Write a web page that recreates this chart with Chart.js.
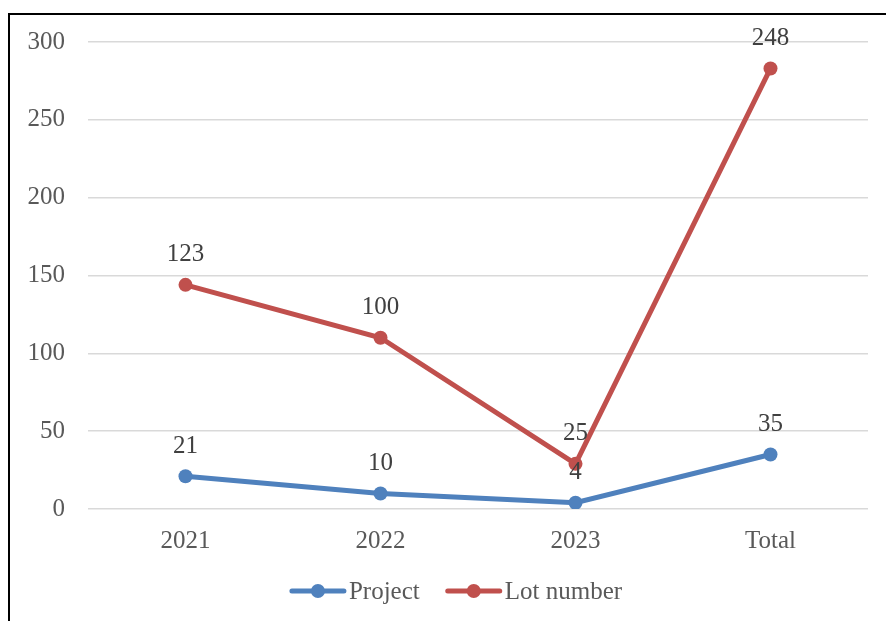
<!DOCTYPE html>
<html>
<head>
<meta charset="utf-8">
<script src="https://cdn.jsdelivr.net/npm/chart.js@4/dist/chart.umd.min.js"></script>
<style>
html,body{margin:0;padding:0;background:#fff;}
#wrap{position:relative;width:886px;height:621px;}
</style>
</head>
<body>
<div id="wrap"><canvas id="c" width="886" height="621"></canvas></div>
<script>
const categories = ["2021", "2022", "2023", "Total"];
const projectValues = [21, 10, 4, 35];
const lotNumberValues = [123, 100, 25, 248];
const seriesNames = ["Project", "Lot number"];
const yTicks = [0, 50, 100, 150, 200, 250, 300];

const FONT = "'Liberation Serif', 'Times New Roman', serif";
const FS = 25;
const BLUE = "#4F81BD";
const RED = "#C0504D";

const framePlugin = {
  id: "frame",
  beforeDraw(chart) {
    const ctx = chart.ctx;
    ctx.save();
    ctx.fillStyle = "#fff";
    ctx.fillRect(0, 0, chart.width, chart.height);
    ctx.fillStyle = "#000";
    ctx.fillRect(8, 13, 2, chart.height - 13);
    ctx.fillRect(8, 13, chart.width - 8, 2);
    ctx.restore();
  }
};

const labelPlugin = {
  id: "valueLabels",
  afterDatasetsDraw(chart) {
    const ctx = chart.ctx;
    ctx.save();
    ctx.font = FS + "px " + FONT;
    ctx.fillStyle = "#404040";
    ctx.textAlign = "center";
    ctx.textBaseline = "middle";
    chart.data.datasets.forEach((ds, i) => {
      const meta = chart.getDatasetMeta(i);
      meta.data.forEach((pt, j) => {
        ctx.fillText(String(ds.data[j]), pt.x, pt.y - 30);
      });
    });
    ctx.restore();
  }
};

const legendPlugin = {
  id: "customLegend",
  afterDraw(chart) {
    const ctx = chart.ctx;
    ctx.save();
    ctx.font = FS + "px " + FONT;
    ctx.textBaseline = "middle";
    const y = 591;
    const lineW = 56, gapText = 3, gapItem = 26;
    const items = chart.data.datasets.map(ds => ({
      label: ds.label, color: ds.borderColor,
      w: lineW + gapText + ctx.measureText(ds.label).width
    }));
    const total = items.reduce((a, b) => a + b.w, 0) + gapItem * (items.length - 1);
    let x = 456 - total / 2;
    items.forEach(it => {
      ctx.strokeStyle = it.color;
      ctx.lineWidth = 5;
      ctx.lineCap = "round";
      ctx.beginPath();
      ctx.moveTo(x + 2, y);
      ctx.lineTo(x + lineW - 2, y);
      ctx.stroke();
      ctx.fillStyle = it.color;
      ctx.beginPath();
      ctx.arc(x + lineW / 2, y, 7, 0, Math.PI * 2);
      ctx.fill();
      ctx.fillStyle = "#595959";
      ctx.textAlign = "left";
      ctx.fillText(it.label, x + lineW + gapText, y + 1);
      x += it.w + gapItem;
    });
    ctx.restore();
  }
};

new Chart(document.getElementById("c"), {
  type: "line",
  data: {
    labels: categories,
    datasets: [
      {
        label: seriesNames[0], data: projectValues,
        borderColor: BLUE, backgroundColor: BLUE,
        borderWidth: 5, pointRadius: 7, pointHoverRadius: 7,
        pointBackgroundColor: BLUE, pointBorderWidth: 0, tension: 0, fill: false
      },
      {
        label: seriesNames[1], data: lotNumberValues,
        borderColor: RED, backgroundColor: RED,
        borderWidth: 5, pointRadius: 7, pointHoverRadius: 7,
        pointBackgroundColor: RED, pointBorderWidth: 0, tension: 0, fill: false
      }
    ]
  },
  options: {
    responsive: false,
    animation: false,
    devicePixelRatio: 1,
    layout: { padding: { top: 42, right: 18, bottom: 0, left: 0 } },
    plugins: { legend: { display: false }, tooltip: { enabled: false } },
    scales: {
      x: {
        offset: true,
        grid: { display: false, drawTicks: false },
        border: { display: false },
        ticks: { color: "#595959", font: { family: FONT, size: FS }, padding: 17, maxRotation: 0 },
        afterFit(s) { s.height = 112; }
      },
      y: {
        stacked: true,
        min: 0, max: 300,
        afterBuildTicks(s) { s.ticks = yTicks.map(v => ({ value: v })); },
        grid: { color: "#D9D9D9", lineWidth: 1.5, drawTicks: false },
        border: { display: false },
        ticks: { color: "#595959", font: { family: FONT, size: FS }, padding: 23 },
        afterFit(s) { s.width = 88; }
      }
    }
  },
  plugins: [framePlugin, labelPlugin, legendPlugin]
});
</script>
</body>
</html>
